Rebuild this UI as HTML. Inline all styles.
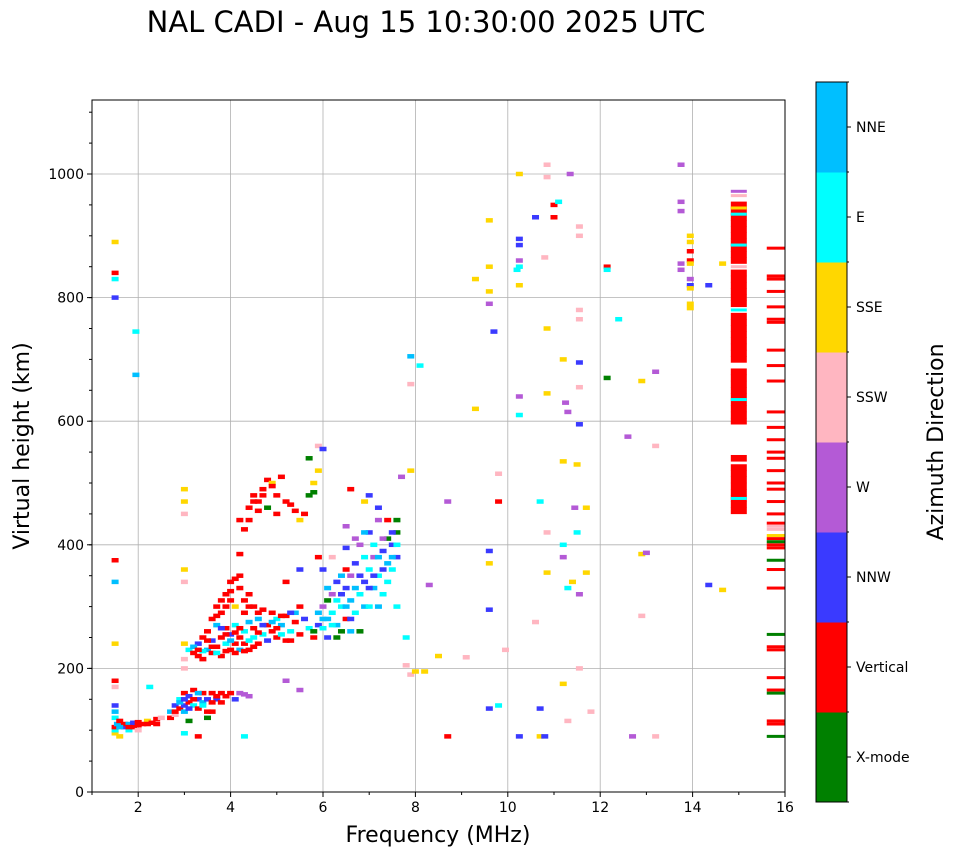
<!DOCTYPE html>
<html><head><meta charset="utf-8"><style>
body{margin:0;background:#fff;font-family:"Liberation Sans",sans-serif}
svg text{font-family:"DejaVu Sans","Liberation Sans",sans-serif}
</style></head><body>
<svg id="chart" width="958" height="857" xmlns="http://www.w3.org/2000/svg">
<text x="426" y="32" font-size="29" text-anchor="middle">NAL CADI - Aug 15 10:30:00 2025 UTC</text>
<g id="grid"></g>
<g id="marks"></g>
<g id="axes"></g>
<g id="cbar"></g>
<text x="438" y="842" font-size="22" text-anchor="middle">Frequency (MHz)</text>
<text transform="translate(29,446) rotate(-90)" font-size="22" text-anchor="middle">Virtual height (km)</text>
<text transform="translate(943,442) rotate(-90)" font-size="22" text-anchor="middle">Azimuth Direction</text>
</svg>
<script>
const directions=["X-mode","Vertical","NNW","W","SSW","SSE","E","NNE"];
const dirColors=["#008000","#ff0000","#3a3aff","#b45ad6","#ffb6c1","#ffd700","#00ffff","#00bfff"];
const xTicks=[2,4,6,8,10,12,14,16];
const yTicks=[0,200,400,600,800,1000];
const points=[
[1.5,95,5],[1.5,100,6],[1.5,105,1],[1.55,110,7],[1.5,120,6],[1.5,130,7],[1.5,140,2],[1.6,115,1],[1.7,105,2],[1.7,110,1],[1.8,100,6],[1.8,110,7],[1.9,105,1],[1.9,112,2],[2.0,100,4],[2.0,108,1],[2.1,110,1],[2.2,115,5],[2.3,112,1],[2.4,118,1],[2.5,120,4],[2.4,110,1],[1.6,90,5],[1.5,180,1],[1.5,170,4],[1.5,240,5],
[2.7,120,1],[2.7,130,7],[2.8,140,2],[2.8,125,4],[2.9,135,1],[2.9,150,6],[3.0,140,2],[3.0,160,1],[3.0,130,7],[3.1,145,1],[3.1,155,2],[3.2,140,6],[3.2,165,1],[3.3,150,2],[3.3,135,1],[3.4,160,1],[3.4,145,7],[3.5,150,2],[3.5,130,1],[3.6,160,1],[3.7,150,2],[3.8,145,1],[3.9,155,1],[4.0,160,1],[4.1,150,2],[4.2,160,3],[4.3,158,3],[4.4,155,3],[3.0,95,6],[3.3,90,1],[3.5,120,0],[3.6,130,1],[3.1,115,0],
[2.9,145,7],[3.1,135,2],[3.2,150,1],[3.4,140,6],[3.6,145,1],[3.7,155,1],[3.8,160,1],[3.3,160,7],[2.8,130,1],[3.0,150,2],[1.6,105,7],[1.8,105,1],[2.0,113,1],[2.2,110,1],
[3.0,200,4],[3.0,215,4],[3.0,240,5],[3.1,230,6],[3.2,225,1],[3.3,220,1],[3.3,240,2],[3.4,215,1],[3.4,250,1],[3.5,230,7],[3.5,260,1],[3.6,225,1],[3.6,245,2],[3.7,235,1],[3.7,270,7],[3.8,220,1],[3.8,250,1],[3.9,240,6],[3.9,265,1],[4.0,230,1],[4.0,255,2],[4.1,240,1],[4.1,270,6],[4.2,230,7],[4.2,250,1],[4.3,260,6],[4.3,240,1],[4.4,230,1],[4.4,275,7],[4.5,250,6],[4.5,265,1],[4.6,240,1],[4.6,280,7],[4.7,255,6],[4.8,270,1],[4.8,245,2],[4.9,260,1],[5.0,280,6],[5.0,250,1],[5.1,270,7],[5.2,245,1],[5.3,260,6],[5.4,275,1],[5.5,255,1],[5.6,280,2],[5.7,265,6],[5.8,250,1],
[3.2,235,7],[3.4,228,6],[3.5,245,1],[3.7,225,6],[3.8,265,2],[3.9,228,1],[4.0,245,7],[4.1,225,1],[4.2,265,1],[4.3,228,1],[4.4,245,6],[4.5,235,1],[4.6,258,1],[4.7,270,2],[4.9,275,7],[5.0,265,1],[5.1,255,6],[5.2,285,1],[5.3,245,1],[5.4,290,7],[3.6,235,1],[3.9,255,1],[4.1,258,1],[3.3,230,1],
[3.6,280,1],[3.7,300,1],[3.8,290,1],[3.9,320,1],[4.0,340,1],[4.0,310,1],[4.1,300,5],[4.2,330,1],[4.3,290,1],[4.2,350,1],[4.4,320,1],[4.5,300,1],[4.7,295,1],[4.9,290,1],[5.1,285,1],[5.3,290,2],[5.5,300,1],[5.2,340,1],
[3.8,310,1],[3.9,300,1],[4.0,325,1],[4.1,345,1],[4.3,310,1],[4.4,300,1],[3.7,285,1],[4.6,290,1],
[4.2,385,1],[4.2,440,1],[4.3,425,1],[4.4,460,1],[4.5,480,1],[4.6,470,1],[4.7,490,1],[4.8,505,1],[4.8,460,0],[4.9,500,5],[5.0,480,1],[5.1,510,1],[5.2,470,1],[5.4,455,1],[5.5,440,5],[5.7,480,0],[5.8,500,5],[5.9,520,5],[5.7,540,0],[5.9,560,4],[6.0,555,2],[5.6,450,1],[5.0,450,1],[5.8,485,0],
[4.5,470,1],[4.7,480,1],[4.9,495,1],[5.3,465,1],[4.6,455,1],[4.4,440,1],
[5.8,260,0],[5.9,270,2],[6.0,280,7],[6.0,300,3],[6.1,250,2],[6.1,310,0],[6.2,290,6],[6.2,320,3],[6.3,270,7],[6.3,340,2],[6.4,300,6],[6.4,260,0],[6.5,330,2],[6.5,280,1],[6.6,310,7],[6.6,350,3],[6.7,290,6],[6.7,370,2],[6.8,320,6],[6.8,400,3],[6.9,340,2],[6.9,300,7],[7.0,360,6],[7.0,420,2],[7.1,330,7],[7.1,380,3],[7.2,350,6],[7.2,440,3],[7.3,390,2],[7.3,320,6],[7.4,370,7],[7.4,410,0],[7.5,400,2],[7.5,360,6],[7.6,420,0],[7.6,380,2],[6.2,380,4],[6.5,430,3],[6.6,490,1],[7.0,480,2],[7.4,440,1],[7.7,510,3],[6.9,470,5],[7.2,460,2],[6.8,260,0],[6.0,360,2],[6.1,330,7],[5.5,360,2],[5.9,380,1],[6.5,360,1],[7.6,300,6],
[6.3,310,6],[6.4,320,2],[6.5,300,7],[6.6,280,2],[6.7,330,7],[6.8,350,2],[6.9,380,6],[7.0,330,2],[7.1,400,6],[7.2,380,7],[7.3,360,2],[7.4,340,6],[7.5,380,7],[7.6,400,6],[7.0,300,6],[7.3,410,3],[7.1,350,2],[6.9,420,7],[6.4,350,7],[6.2,270,6],[6.1,280,7],[5.9,290,7],[6.0,265,6],[6.3,250,0],[6.6,260,7],[7.2,300,7],[6.7,410,3],[6.5,395,2],[7.5,420,2],[7.6,440,0],
[3.0,470,5],[3.0,490,5],[3.0,360,5],[3.0,340,4],[3.0,450,4],[1.5,375,1],[1.5,340,7],[1.5,830,6],[1.5,890,5],[1.5,840,1],[1.5,800,2],[1.95,745,6],[1.95,675,7],[2.25,170,6],[5.2,180,3],[5.5,165,3],[4.3,90,6],[7.8,250,6],[7.8,205,4],[7.9,190,4],[8.0,195,5],[8.2,195,5],[8.5,220,5],[9.1,218,4],[8.7,90,1],[8.7,470,3],[8.3,335,3],[7.9,520,5],[7.9,660,4],[7.9,705,7],[8.1,690,6],[9.3,620,5],[9.3,830,5],[9.6,925,5],[9.6,850,5],[9.6,810,5],[9.6,790,3],[9.7,745,2],[9.6,390,2],[9.6,370,5],[9.6,295,2],[9.6,135,2],[9.8,140,6],[9.8,515,4],[9.8,470,1],[9.95,230,4],[10.25,1000,5],[10.25,895,2],[10.25,885,2],[10.25,860,3],[10.25,850,6],[10.25,820,5],[10.2,845,6],[10.25,640,3],[10.25,610,6],[10.25,90,2],[10.6,930,2],[10.7,470,6],[10.6,275,4],[10.7,90,5],[10.7,135,2],[10.8,90,2],[10.85,1015,4],[10.85,995,4],[10.85,750,5],[10.85,645,5],[10.85,420,4],[10.85,355,5],[10.8,865,4],[11.0,950,1],[11.0,930,1],[11.1,955,6],[11.2,700,5],[11.2,535,5],[11.2,400,6],[11.2,380,3],[11.2,175,5],[11.25,630,3],[11.3,615,3],[11.3,330,6],[11.3,115,4],[11.35,1000,3],[11.4,340,5],[11.45,460,3],[11.5,420,6],[11.5,530,5],[11.55,915,4],[11.55,900,4],[11.55,780,4],[11.55,765,4],[11.55,695,2],[11.55,655,4],[11.55,595,2],[11.55,320,3],[11.55,200,4],[11.7,460,5],[11.7,355,5],[11.8,130,4],[12.15,850,1],[12.15,845,6],[12.15,670,0],[12.4,765,6],[12.6,575,3],[12.7,90,3],[12.9,385,5],[12.9,665,5],[12.9,285,4],[13.0,387,3],[13.2,680,3],[13.2,560,4],[13.2,90,4],[13.75,1015,3],[13.75,955,3],[13.75,940,3],[13.75,855,3],[13.75,845,3],[13.95,900,5],[13.95,890,5],[13.95,875,1],[13.95,860,1],[13.95,855,5],[13.95,830,3],[13.95,820,2],[13.95,815,5],[13.95,790,5],[13.95,783,5],[14.35,820,2],[14.35,335,2],[14.65,855,5],[14.65,327,5]
];
const col15Heights=[455,465,475,485,495,505,515,525,540,600,610,620,630,640,650,660,670,680,700,710,720,730,740,750,760,770,790,800,810,820,830,840,860,870,880,890,900,910,920,930,940,950];
const col15Colored=[[475,6],[635,6],[780,6],[885,6],[935,6],[945,5],[850,4],[965,4],[972,3]];
const col158Heights=[110,115,165,185,230,235,330,360,395,400,410,435,450,470,490,500,520,540,550,570,590,615,665,690,715,760,765,785,810,830,835,880];
const col158Colored=[[90,0],[160,0],[255,0],[375,0],[405,0],[415,5],[425,4],[430,4]];

const X0=92,X1=785,Y0=792,Y1=100,F0=1,F1=16;
const xs=f=>X0+(f-F0)/(F1-F0)*(X1-X0);
const ys=h=>Y0-h/1000*(Y0-174);
const NS="http://www.w3.org/2000/svg";
function mk(tag,attrs,parent){const e=document.createElementNS(NS,tag);for(const k in attrs)e.setAttribute(k,attrs[k]);parent.appendChild(e);return e;}
const grid=document.getElementById('grid'),marks=document.getElementById('marks'),axes=document.getElementById('axes'),cb=document.getElementById('cbar');
xTicks.forEach(t=>{const l=mk('line',{x1:xs(t),x2:xs(t),y1:Y1,y2:Y0,stroke:'#b0b0b0','stroke-width':0.8},grid);

});
yTicks.forEach(t=>{const l=mk('line',{x1:X0,x2:X1,y1:ys(t),y2:ys(t),stroke:'#b0b0b0','stroke-width':0.8},grid);

});
function rect(f,h,c,w,hh){const x=xs(f),y=ys(h);const r=mk('rect',{x:x-w/2,y:y-hh/2,width:w,height:hh,fill:dirColors[c]},marks);

}
points.forEach(p=>rect(p[0],p[1],p[2],7,4.5));
col15Heights.forEach(h=>rect(15,h,1,16,6.6));
col15Colored.forEach(p=>rect(15,p[0],p[1],16,3));
col158Heights.forEach(h=>rect(15.8,h,1,18,3));
col158Colored.forEach(p=>rect(15.8,p[0],p[1],18,3));
mk('rect',{x:X0,y:Y1,width:X1-X0,height:Y0-Y1,fill:'none',stroke:'#000','stroke-width':1},axes);
xTicks.forEach(t=>{mk('line',{x1:xs(t),x2:xs(t),y1:Y0,y2:Y0+5,stroke:'#000'},axes);
const tx=mk('text',{x:xs(t),y:Y0+20,'font-size':14,'text-anchor':'middle'},axes);tx.textContent=t;

});
for(let f=1;f<=15;f+=2)mk('line',{x1:xs(f),x2:xs(f),y1:Y0,y2:Y0+3,stroke:'#000'},axes);
yTicks.forEach(t=>{mk('line',{x1:X0-5,x2:X0,y1:ys(t),y2:ys(t),stroke:'#000'},axes);
const tx=mk('text',{x:X0-8,y:ys(t)+5,'font-size':14,'text-anchor':'end'},axes);tx.textContent=t;

});
for(let h=50;h<=1100;h+=50)mk('line',{x1:X0-3,x2:X0,y1:ys(h),y2:ys(h),stroke:'#000'},axes);
const CX=816,CW=31,CT=82,CB=802,seg=(CB-CT)/directions.length;
directions.forEach((d,i)=>{const y=CB-(i+1)*seg;
const r=mk('rect',{x:CX,y:y,width:CW,height:seg+0.5,fill:dirColors[i]},cb);


const tx=mk('text',{x:CX+CW+9,y:y+seg/2+5,'font-size':14},cb);tx.textContent=d;


mk('line',{x1:CX+CW,x2:CX+CW+4,y1:y+seg/2,y2:y+seg/2,stroke:'#000'},cb);});
for(let i=0;i<=directions.length;i++)mk('line',{x1:CX+CW,x2:CX+CW+2,y1:CT+i*seg,y2:CT+i*seg,stroke:'#000'},cb);
mk('rect',{x:CX,y:CT,width:CW,height:CB-CT,fill:'none',stroke:'#000','stroke-width':1},cb);
</script>
</body></html>
